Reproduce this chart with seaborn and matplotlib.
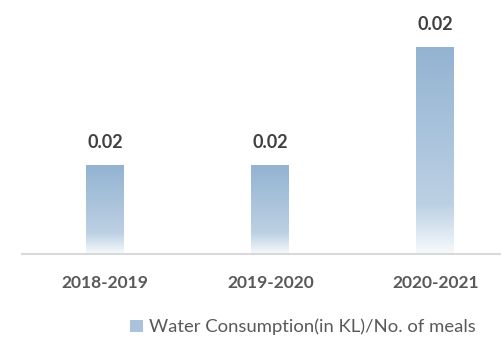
import numpy as np
import pandas as pd
import matplotlib
matplotlib.use("Agg")
import matplotlib.pyplot as plt
from matplotlib.colors import LinearSegmentedColormap
from matplotlib.patches import Rectangle
import seaborn as sns

# Water consumption per meal, by financial year
years = ["2018-2019", "2019-2020", "2020-2021"]
consumption = [0.016, 0.016, 0.024]
series_name = "Water Consumption(in KL)/No. of meals"

sns.set_theme(style="white")
plt.rcParams["font.family"] = ["Lato", "DejaVu Sans"]

text_color = "#595959"
label_color = "#404040"

df = pd.DataFrame({"year": years, "value": consumption})

fig = plt.figure(figsize=(5.01, 3.53), dpi=100)
ax = fig.add_axes([22 / 501, 1 - 254 / 353, 1 - 22 / 501, 254 / 353])

sns.barplot(data=df, x="year", y="value", ax=ax, width=0.23,
            color="#94B5D3", saturation=1)

ax.set_xlim(-0.503, 2.397)
ax.set_ylim(0.01, 0.01 + 254 / 14786)

# vertical gradient fill: light steel blue at the top fading to white at the base
grad = LinearSegmentedColormap.from_list(
    "bar_fade",
    [(0.0, "#F7FAFD"), (0.12, "#D9E5F0"), (0.24, "#BCD0E3"), (1.0, "#93B3D2")],
)
ymin = ax.get_ylim()[0]
for patch in ax.patches:
    x0, w = patch.get_x(), patch.get_width()
    top = patch.get_height()
    patch.set_facecolor("none")
    patch.set_edgecolor("none")
    ramp = np.linspace(0, 1, 256).reshape(-1, 1)
    img = ax.imshow(ramp, cmap=grad, origin="lower", aspect="auto",
                    extent=[x0, x0 + w, ymin, top], zorder=2)
    img.set_clip_path(patch)

for patch, v in zip(ax.patches, consumption):
    ax.annotate(f"{v:.2f}", (patch.get_x() + patch.get_width() / 2, v),
                xytext=(0, 12.5), textcoords="offset points",
                ha="center", va="baseline", fontsize=13,
                fontweight="bold", color=label_color)

ax.set_xlabel("")
ax.set_ylabel("")
ax.set_yticks([])
ax.tick_params(axis="x", length=0, pad=15)
for lbl in ax.get_xticklabels():
    lbl.set_fontsize(12.5)
    lbl.set_fontweight("bold")
    lbl.set_color(text_color)

for side in ["top", "right", "left"]:
    ax.spines[side].set_visible(False)
ax.spines["bottom"].set_color("#D9D9D9")
ax.spines["bottom"].set_linewidth(1.5)

handle = Rectangle((0, 0), 1, 1, facecolor="#A9C3DC", edgecolor="none")
fig.legend([handle], [series_name], loc="center", bbox_to_anchor=(0.605, 1 - 327 / 353),
           frameon=False, fontsize=13.3, handlelength=0.65, handleheight=0.65,
           handletextpad=0.35, labelcolor=text_color, borderpad=0)

fig.savefig("out.png", dpi=100)
